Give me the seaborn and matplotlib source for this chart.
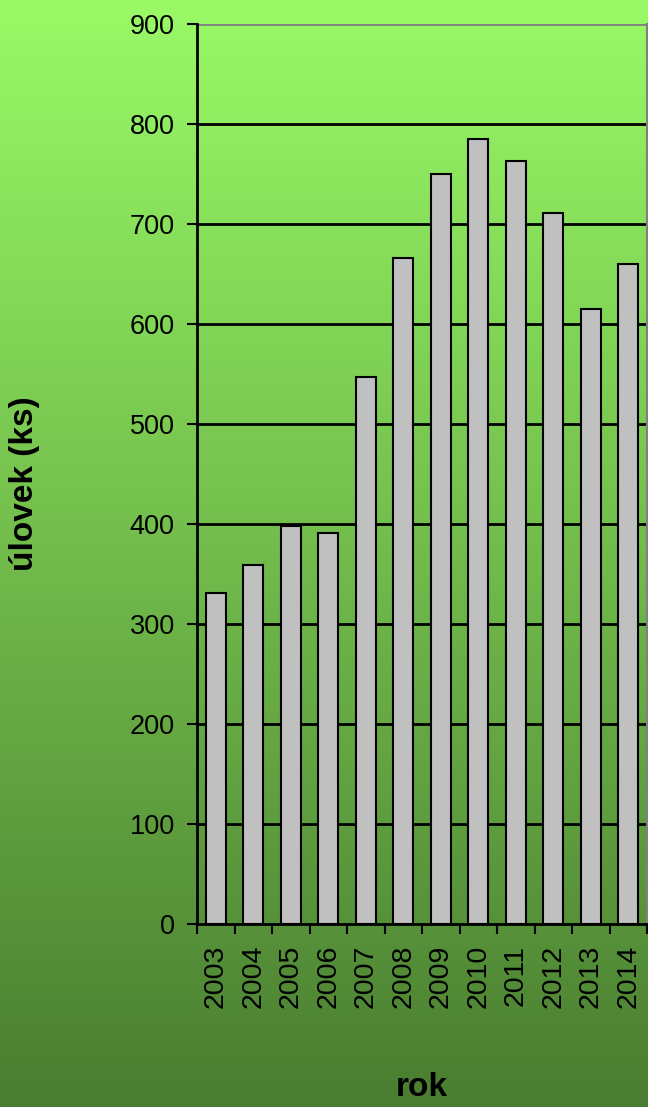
import numpy as np
import pandas as pd
import seaborn as sns
import matplotlib.pyplot as plt

years = ["2003", "2004", "2005", "2006", "2007", "2008",
         "2009", "2010", "2011", "2012", "2013", "2014"]
catch = [331, 359, 398, 391, 547, 666, 750, 785, 763, 711, 615, 660]
yticks = [0, 100, 200, 300, 400, 500, 600, 700, 800, 900]

sns.set_style("white")
plt.rcParams['font.family'] = ['Liberation Sans', 'DejaVu Sans']
plt.rcParams['text.color'] = 'black'
plt.rcParams['xtick.color'] = 'black'
plt.rcParams['ytick.color'] = 'black'

W, H = 648, 1107
fig = plt.figure(figsize=(W / 100, H / 100), dpi=100)

# green gradient background
bg = fig.add_axes([0, 0, 1, 1], zorder=-1)
top = np.array([0.60, 0.98, 0.40])
bot = np.array([0.29, 0.49, 0.19])
t = np.linspace(0, 1, 256)[:, None]
grad = (top * (1 - t) + bot * t)[:, None, :]
bg.imshow(grad, aspect="auto", extent=[0, 1, 0, 1])
bg.axis("off")

ax = fig.add_axes([197 / W, 1 - 924 / H, 450 / W, 900 / H])
ax.patch.set_alpha(0)

df = pd.DataFrame({"rok": years, "ulovek": catch})
sns.barplot(data=df, x="rok", y="ulovek", ax=ax, color="#c0c0c0",
            saturation=1, width=0.53, edgecolor="black", linewidth=1.5, zorder=3)

ax.set_ylim(0, 900)
ax.set_xlim(-0.5, len(years) - 0.5)
ax.set_yticks(yticks)
for v in yticks[1:-1]:
    ax.axhline(v, color="black", lw=2, zorder=1)
ax.axhline(900, color="#808080", lw=2, zorder=1)

ax.set_xticks(np.arange(len(years) + 1) - 0.5)
ax.set_xticklabels([])
ax.set_xticks(np.arange(len(years)), minor=True)
ax.set_xticklabels(years, minor=True, rotation=90, va="top", ha="center")
ax.tick_params(axis="x", which="major", length=7, width=1.5, direction="out", bottom=True)
ax.tick_params(axis="x", which="minor", length=0, pad=15, labelsize=20.5)
ax.tick_params(axis="y", length=7, width=1.5, direction="out", left=True, pad=9, labelsize=19.5)

for s in ["left", "bottom"]:
    ax.spines[s].set_color("black")
    ax.spines[s].set_linewidth(2)
ax.spines["top"].set_visible(False)
ax.spines["right"].set_color("#808080")
ax.spines["right"].set_linewidth(1.5)

ax.set_xlabel("")
ax.set_ylabel("")
fig.text(25 / W, 1 - 484 / H, "úlovek (ks)", rotation=90, ha="center", va="center",
         fontsize=24, fontweight="bold")
fig.text(422 / W, 1 - 1088 / H, "rok", ha="center", va="center",
         fontsize=24, fontweight="bold")

fig.savefig("out.png", dpi=100)
